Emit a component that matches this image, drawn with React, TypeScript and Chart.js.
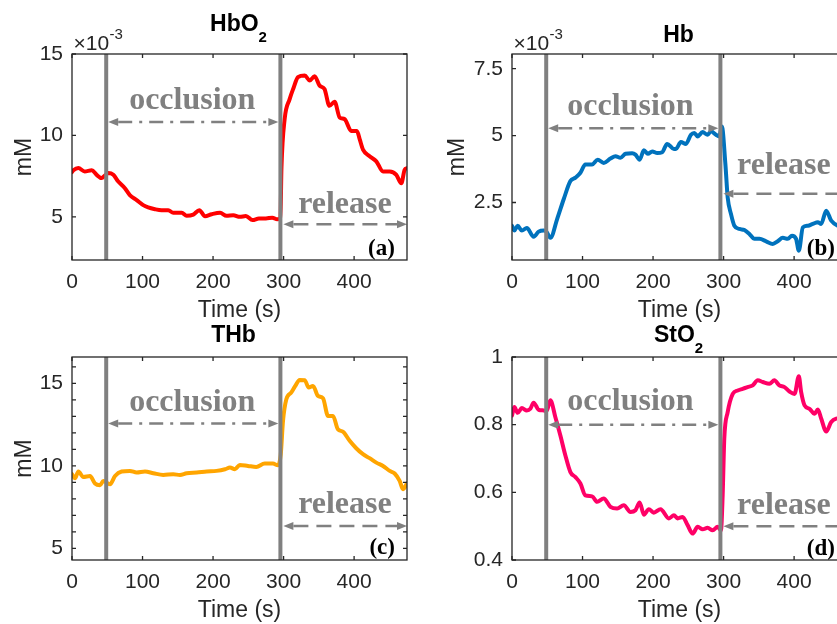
import React, { useEffect, useRef } from 'react';
import { Chart, registerables } from 'chart.js';

Chart.register(...registerables);

// ---------------- data ----------------
const TIME_TICKS = [0, 100, 200, 300, 400];
const TIME_MIN = 0;
const TIME_MAX = 475;
const OCCLUSION_START_S = 48.5;
const RELEASE_START_S = 295.5;

// (a) HbO2  (x10^-3 mM)
const hbo2Time = [0, 2, 9, 18, 28, 35, 42, 47, 51.5, 58.6, 65.6, 75, 82, 91.7, 101, 108, 117.6, 127, 136.5, 143.6, 155.5, 162.6, 172, 180.5, 188.6, 198, 210, 219, 228.7, 238, 246.5, 256, 265, 275, 284, 291, 295.5, 297, 301.5, 308.6, 314, 320.4, 330, 337, 344, 351, 358, 365, 372.4, 379.5, 386.5, 396, 404, 408, 412.6, 422, 431.5, 441, 450.5, 459.9, 467, 471.6, 475];
const hbo2Value = [7.75, 7.86, 8.0, 7.79, 7.86, 7.58, 7.38, 7.55, 7.69, 7.58, 7.17, 6.76, 6.34, 6.03, 5.72, 5.58, 5.47, 5.41, 5.41, 5.25, 5.25, 5.06, 5.14, 5.41, 5.04, 5.16, 5.25, 5.06, 5.1, 5.0, 5.05, 4.8, 4.9, 4.9, 4.95, 4.85, 4.9, 8.0, 11.0, 12.23, 12.9, 13.58, 13.68, 13.37, 13.64, 13.06, 12.85, 11.82, 12.07, 11.1, 11.0, 10.27, 10.27, 9.75, 9.13, 8.72, 8.41, 7.79, 7.79, 7.58, 7.06, 7.89, 7.99];
const hbo2YTicks = [5, 10, 15];

// (b) Hb  (x10^-3 mM)
const hbTime = [0, 3.3, 8, 14, 21, 30.7, 37.8, 45, 49, 54.4, 64, 73.3, 82.8, 90, 97, 104, 113.6, 121.6, 130, 139.6, 146.7, 153.8, 161, 170.4, 175, 181, 187, 192.6, 198.9, 206, 213, 220, 229.6, 232.4, 239.5, 246.6, 253.7, 258.5, 263.2, 270.3, 277.4, 282, 289.2, 294, 297.5, 302.6, 305.8, 310.5, 315.3, 322.4, 329.5, 336.6, 343.8, 350.9, 360.3, 369.7, 376.8, 384, 391, 397, 402.8, 406.7, 412.4, 419.5, 426.6, 433.7, 438.4, 445.5, 452.6, 462, 468, 475];
const hbValue = [1.63, 1.45, 1.63, 1.45, 1.55, 1.22, 1.41, 1.45, 1.4, 1.18, 1.88, 2.62, 3.3, 3.43, 3.61, 3.92, 3.92, 4.1, 3.98, 4.14, 4.23, 4.17, 4.32, 4.34, 4.29, 4.1, 4.45, 4.32, 4.41, 4.35, 4.38, 4.69, 4.5, 4.5, 4.76, 4.69, 5.03, 5.1, 4.97, 5.13, 5.03, 5.16, 5.03, 4.97, 5.34, 3.92, 2.69, 2.07, 1.63, 1.51, 1.47, 1.32, 1.14, 1.14, 1.05, 0.95, 1.05, 1.18, 1.14, 1.26, 1.14, 0.7, 1.57, 1.63, 1.7, 1.76, 1.7, 2.19, 1.82, 1.63, 1.6, 1.65];
const hbYTicks = [2.5, 5, 7.5];

// (c) THb  (mM)
const thbTime = [0, 4.3, 9, 16, 25.5, 32.6, 39.7, 44.4, 53.9, 61, 70.4, 82.2, 91.7, 103.5, 115.3, 129.4, 143.6, 153, 162.6, 176.8, 191, 205, 217, 224, 231, 238, 249.5, 261.3, 273.2, 285, 292, 296, 299.2, 303.9, 311, 316.6, 322.8, 330, 335.6, 341.7, 348.8, 355.9, 363, 370, 377, 384, 393.7, 403, 412.6, 422, 431.5, 441, 450.5, 457.5, 464.6, 469.3, 475];
const thbValue = [9.5, 9.25, 9.66, 9.33, 9.39, 8.93, 8.83, 9.09, 8.89, 9.39, 9.66, 9.7, 9.6, 9.66, 9.56, 9.45, 9.5, 9.45, 9.56, 9.6, 9.66, 9.7, 9.8, 9.9, 9.8, 10.06, 10.0, 9.94, 10.14, 10.14, 10.04, 10.7, 12.73, 14.04, 14.45, 14.85, 15.21, 15.19, 14.75, 14.85, 14.24, 14.1, 13.03, 13.03, 12.22, 12.08, 11.52, 11.07, 10.71, 10.47, 10.2, 10.0, 9.7, 9.54, 9.09, 8.59, 8.95];
const thbYTicks = [5, 10, 15];
const thbYMinorTicks = [5, 6, 7, 8, 9, 10, 11, 12, 13, 14, 15, 16];

// (d) StO2
const sto2Time = [0, 3.3, 8, 14, 21, 26, 30.7, 37.8, 45, 49, 54.4, 61.5, 68.6, 75.7, 82.8, 90, 97, 104, 113.6, 120.7, 130, 139.6, 149, 158.5, 168, 175, 181, 187, 194, 201, 210.6, 222.4, 229.6, 234.8, 241.9, 249, 256, 263.4, 270.3, 277.4, 284.5, 291.6, 296.3, 298.7, 301, 305.8, 313, 320, 327, 334, 341.3, 348.4, 355.5, 365, 372, 379, 386.4, 393.5, 400.6, 406.7, 410, 414.8, 421.9, 429, 433.7, 438.4, 445.5, 452.6, 459.7, 467, 475];
const sto2Value = [0.827, 0.852, 0.835, 0.849, 0.842, 0.847, 0.865, 0.844, 0.842, 0.84, 0.872, 0.822, 0.768, 0.709, 0.66, 0.645, 0.626, 0.591, 0.588, 0.572, 0.582, 0.557, 0.552, 0.562, 0.542, 0.547, 0.57, 0.534, 0.55, 0.54, 0.55, 0.523, 0.532, 0.523, 0.527, 0.503, 0.478, 0.498, 0.491, 0.495, 0.488, 0.498, 0.488, 0.591, 0.759, 0.837, 0.891, 0.901, 0.906, 0.911, 0.916, 0.931, 0.926, 0.921, 0.931, 0.916, 0.911, 0.898, 0.891, 0.943, 0.896, 0.857, 0.847, 0.832, 0.845, 0.818, 0.78, 0.808, 0.818, 0.82, 0.83];
const sto2YTicks = [0.4, 0.6, 0.8, 1];

// ---------------- styles / layout ----------------
const CANVAS_W = 870;
const CANVAS_H = 624;
const X_AXIS_H = 64;
const SANS = '"Liberation Sans", Arial, Helvetica, sans-serif';
const SERIF = '"Liberation Serif", "Times New Roman", serif';
const AXIS_COLOR = '#262626';
const GRAY = '#808080';
const TICK_LEN = 4;
const DASH_DOT = [14, 7, 3, 7];
const DASHED = [15, 8];

type Box = { left: number; top: number; right: number; bottom: number };
type Panel = {
  title: string;
  titleSub: string;
  titleDx: number;
  titleGap: number;
  showExponent: boolean;
  time: number[];
  value: number[];
  color: string;
  yMin: number;
  yMax: number;
  yTicks: number[];
  yMinorTicks: number[];
  yTitle: string;
  box: Box;
  yAxisWidth: number;
  occlusionLabel: [number, number];
  occlusionArrowY: number;
  releaseLabel: [number, number];
  releaseArrowY: number;
  tag: string;
  tagAt: [number, number];
};

const PANELS: Panel[] = [
  {
    title: 'HbO', titleSub: '2', titleDx: -1, titleGap: 23.3, showExponent: true,
    time: hbo2Time, value: hbo2Value, color: '#FF0000',
    yMin: 2.35, yMax: 15, yTicks: hbo2YTicks, yMinorTicks: [], yTitle: 'mM',
    box: { left: 72, top: 54, right: 407, bottom: 260 }, yAxisWidth: 61.3,
    occlusionLabel: [170.5, 11.61], occlusionArrowY: 10.83,
    releaseLabel: [387, 5.25], releaseArrowY: 4.55,
    tag: '(a)', tagAt: [457.9, 2.66],
  },
  {
    title: 'Hb', titleSub: '', titleDx: -1, titleGap: 11.7, showExponent: true,
    time: hbTime, value: hbValue, color: '#0072BD',
    yMin: 0.35, yMax: 8.05, yTicks: hbYTicks, yMinorTicks: [], yTitle: 'mM',
    box: { left: 512, top: 54, right: 847, bottom: 260 }, yAxisWidth: 68.3,
    occlusionLabel: [168, 5.78], occlusionArrowY: 5.27,
    releaseLabel: [385.5, 3.55], releaseArrowY: 2.83,
    tag: '(b)', tagAt: [457.9, 0.545],
  },
  {
    title: 'THb', titleSub: '', titleDx: -6, titleGap: 14.7, showExponent: false,
    time: thbTime, value: thbValue, color: '#FFA500',
    yMin: 4.3, yMax: 16.6, yTicks: thbYTicks, yMinorTicks: thbYMinorTicks, yTitle: 'mM',
    box: { left: 72, top: 357, right: 407, bottom: 560 }, yAxisWidth: 61.3,
    occlusionLabel: [170.5, 13.33], occlusionArrowY: 12.57,
    releaseLabel: [387, 7.13], releaseArrowY: 6.36,
    tag: '(c)', tagAt: [457.9, 4.65],
  },
  {
    title: 'StO', titleSub: '2', titleDx: -1, titleGap: 15.3, showExponent: false,
    time: sto2Time, value: sto2Value, color: '#FF0066',
    yMin: 0.4, yMax: 1, yTicks: sto2YTicks, yMinorTicks: [], yTitle: '',
    box: { left: 512, top: 357, right: 847, bottom: 560 }, yAxisWidth: 68,
    occlusionLabel: [168, 0.842], occlusionArrowY: 0.8,
    releaseLabel: [385.5, 0.537], releaseArrowY: 0.5,
    tag: '(d)', tagAt: [457.9, 0.415],
  },
];

function drawDoubleArrow(ctx: CanvasRenderingContext2D, x1: number, x2: number, y: number, dash: number[]) {
  const head = 10;
  const half = 4;
  ctx.save();
  ctx.strokeStyle = GRAY;
  ctx.fillStyle = GRAY;
  ctx.lineWidth = 2.5;
  ctx.setLineDash(dash);
  ctx.beginPath();
  ctx.moveTo(x1 + head, y);
  ctx.lineTo(x2 - head, y);
  ctx.stroke();
  ctx.setLineDash([]);
  ctx.beginPath();
  ctx.moveTo(x1, y);
  ctx.lineTo(x1 + head, y - half);
  ctx.lineTo(x1 + head, y + half);
  ctx.closePath();
  ctx.fill();
  ctx.beginPath();
  ctx.moveTo(x2, y);
  ctx.lineTo(x2 - head, y - half);
  ctx.lineTo(x2 - head, y + half);
  ctx.closePath();
  ctx.fill();
  ctx.restore();
}

function makeDecor(spec: Panel) {
  return {
    id: 'decor' + spec.tag,
    afterDatasetsDraw(chart: any) {
      const ctx: CanvasRenderingContext2D = chart.ctx;
      const xs = chart.scales.x;
      const ys = chart.scales.y;
      const px = (v: number) => xs.getPixelForValue(v);
      const py = (v: number) => ys.getPixelForValue(v);
      const xOcc = px(OCCLUSION_START_S);
      const xRel = px(RELEASE_START_S);
      const xEnd = px(TIME_MAX);
      ctx.save();
      drawDoubleArrow(ctx, xOcc + 2, xRel - 2, py(spec.occlusionArrowY), DASH_DOT);
      drawDoubleArrow(ctx, xRel + 3, xEnd, py(spec.releaseArrowY), DASHED);
      ctx.fillStyle = GRAY;
      ctx.font = `bold 32px ${SERIF}`;
      ctx.textAlign = 'center';
      ctx.textBaseline = 'alphabetic';
      ctx.fillText('occlusion', px(spec.occlusionLabel[0]), py(spec.occlusionLabel[1]));
      ctx.fillText('release', px(spec.releaseLabel[0]), py(spec.releaseLabel[1]));
      ctx.fillStyle = '#000';
      ctx.font = `bold 23px ${SERIF}`;
      ctx.textAlign = 'right';
      ctx.fillText(spec.tag, px(spec.tagAt[0]), py(spec.tagAt[1]));
      ctx.restore();
    },
    afterDraw(chart: any) {
      const ctx: CanvasRenderingContext2D = chart.ctx;
      const ca = chart.chartArea;
      const xs = chart.scales.x;
      const ys = chart.scales.y;
      ctx.save();
      ctx.strokeStyle = AXIS_COLOR;
      ctx.lineWidth = 1.3;
      ctx.strokeRect(ca.left, ca.top, ca.right - ca.left, ca.bottom - ca.top);
      ctx.beginPath();
      for (const v of TIME_TICKS) {
        const x = xs.getPixelForValue(v);
        ctx.moveTo(x, ca.bottom);
        ctx.lineTo(x, ca.bottom - TICK_LEN);
        ctx.moveTo(x, ca.top);
        ctx.lineTo(x, ca.top + TICK_LEN);
      }
      for (const v of [...spec.yTicks, ...spec.yMinorTicks]) {
        const y = ys.getPixelForValue(v);
        ctx.moveTo(ca.left, y);
        ctx.lineTo(ca.left + TICK_LEN, y);
        ctx.moveTo(ca.right, y);
        ctx.lineTo(ca.right - TICK_LEN, y);
      }
      ctx.stroke();

      // title with optional subscript
      const mainFont = `bold 23px ${SANS}`;
      const subFont = `bold 15px ${SANS}`;
      ctx.font = mainFont;
      const w1 = ctx.measureText(spec.title).width;
      ctx.font = subFont;
      const w2 = spec.titleSub ? ctx.measureText(spec.titleSub).width : 0;
      const cx = (ca.left + ca.right) / 2 + spec.titleDx;
      const x0 = cx - (w1 + w2) / 2;
      const base = ca.top - spec.titleGap;
      ctx.fillStyle = '#000';
      ctx.textAlign = 'left';
      ctx.textBaseline = 'alphabetic';
      ctx.font = mainFont;
      ctx.fillText(spec.title, x0, base);
      if (spec.titleSub) {
        ctx.font = subFont;
        ctx.fillText(spec.titleSub, x0 + w1, base + 11);
      }

      if (spec.showExponent) {
        ctx.fillStyle = AXIS_COLOR;
        ctx.font = `21px ${SANS}`;
        const ex = ca.left + 1.5;
        ctx.fillText('×10', ex, ca.top - 4);
        const w = ctx.measureText('×10').width;
        ctx.font = `15px ${SANS}`;
        ctx.fillText('-3', ex + w + 0.5, ca.top - 15);
      }
      ctx.restore();
    },
  };
}

function makeChart(canvas: HTMLCanvasElement, spec: Panel) {
  const padLeft = spec.box.left - spec.yAxisWidth;
  const padBottom = CANVAS_H - spec.box.bottom - X_AXIS_H;
  const vLine = (x: number) => ({
    data: [{ x, y: spec.yMin }, { x, y: spec.yMax }],
    borderColor: GRAY,
    borderWidth: 4,
    pointRadius: 0,
    order: 1,
  });
  return new Chart(canvas, {
    type: 'line',
    data: {
      datasets: [
        {
          data: spec.time.map((t, i) => ({ x: t, y: spec.value[i] })),
          borderColor: spec.color,
          borderWidth: 4,
          pointRadius: 0,
          cubicInterpolationMode: 'monotone',
          borderJoinStyle: 'round',
          borderCapStyle: 'round',
          clip: 0,
          order: 2,
        },
        vLine(OCCLUSION_START_S),
        vLine(RELEASE_START_S),
      ],
    },
    options: {
      responsive: false,
      animation: false,
      events: [],
      layout: {
        padding: {
          left: padLeft,
          top: spec.box.top,
          right: CANVAS_W - spec.box.right,
          bottom: padBottom,
        },
      },
      plugins: {
        legend: { display: false },
        tooltip: { enabled: false },
        title: { display: false },
      },
      scales: {
        x: {
          type: 'linear',
          min: TIME_MIN,
          max: TIME_MAX,
          grid: { display: false, drawTicks: false },
          border: { display: false },
          afterBuildTicks: (s: any) => {
            s.ticks = TIME_TICKS.map((v) => ({ value: v }));
          },
          afterFit: (s: any) => {
            s.height = X_AXIS_H;
          },
          ticks: {
            autoSkip: false,
            maxRotation: 0,
            padding: 10,
            color: AXIS_COLOR,
            font: { family: SANS, size: 21 },
            callback: (v: any) => String(v),
          },
          title: {
            display: true,
            text: 'Time (s)',
            color: AXIS_COLOR,
            font: { family: SANS, size: 23 },
            padding: 0,
          },
        },
        y: {
          type: 'linear',
          min: spec.yMin,
          max: spec.yMax,
          grid: { display: false, drawTicks: false },
          border: { display: false },
          afterBuildTicks: (s: any) => {
            s.ticks = spec.yTicks.map((v) => ({ value: v }));
          },
          afterFit: (s: any) => {
            s.width = spec.yAxisWidth;
          },
          ticks: {
            autoSkip: false,
            padding: 9,
            color: AXIS_COLOR,
            font: { family: SANS, size: 21 },
            callback: (v: any) => String(v),
          },
          title: {
            display: spec.yTitle !== '',
            text: spec.yTitle,
            color: AXIS_COLOR,
            font: { family: SANS, size: 23 },
            padding: 0,
          },
        },
      },
    } as any,
    plugins: [makeDecor(spec)],
  } as any);
}

export default function App() {
  const r0 = useRef<HTMLCanvasElement>(null);
  const r1 = useRef<HTMLCanvasElement>(null);
  const r2 = useRef<HTMLCanvasElement>(null);
  const r3 = useRef<HTMLCanvasElement>(null);
  const refs = [r0, r1, r2, r3];

  useEffect(() => {
    const charts = PANELS.map((spec, i) => makeChart(refs[i].current as HTMLCanvasElement, spec));
    return () => charts.forEach((c) => c.destroy());
  }, []);

  return (
    <div
      style={{
        position: 'fixed',
        left: 0,
        top: 0,
        width: 837,
        height: 624,
        overflow: 'hidden',
        background: '#ffffff',
      }}
    >
      {PANELS.map((p, i) => (
        <canvas
          key={p.tag}
          ref={refs[i]}
          width={CANVAS_W}
          height={CANVAS_H}
          style={{ position: 'absolute', left: 0, top: 0, display: 'block' }}
        />
      ))}
    </div>
  );
}
